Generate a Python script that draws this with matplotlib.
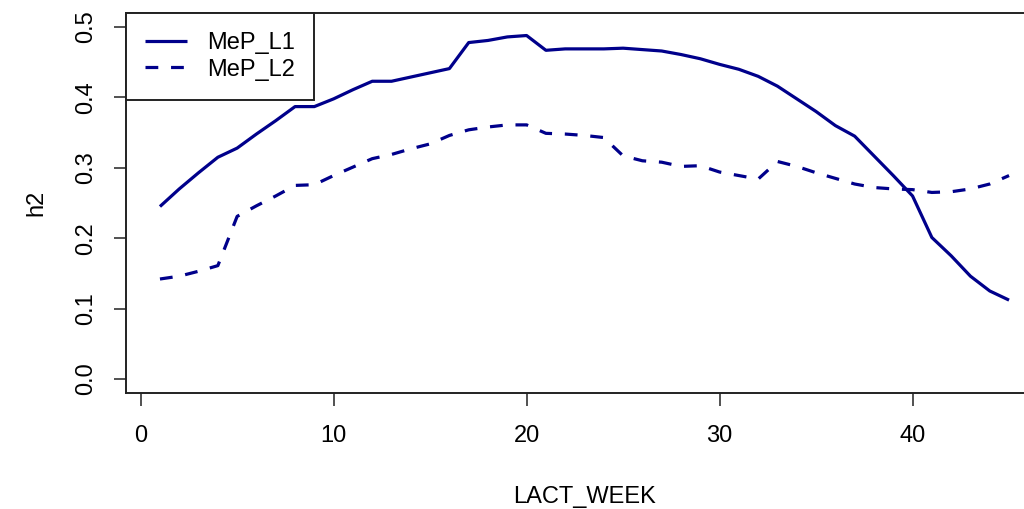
import matplotlib
matplotlib.use("Agg")
import matplotlib.pyplot as plt
import numpy as np

plt.rcParams['font.family'] = ['Liberation Sans', 'DejaVu Sans']

weeks = list(range(1, 46))
mep_l1 = [0.245, 0.270, 0.293, 0.315, 0.328, 0.348, 0.367, 0.387, 0.387, 0.398,
          0.411, 0.423, 0.423, 0.429, 0.435, 0.441, 0.478, 0.481, 0.486, 0.488,
          0.467, 0.469, 0.469, 0.469, 0.470, 0.468, 0.466, 0.461, 0.455, 0.447,
          0.440, 0.430, 0.416, 0.398, 0.380, 0.360, 0.345, 0.317, 0.289, 0.260,
          0.201, 0.175, 0.146, 0.125, 0.112]
mep_l2 = [0.142, 0.146, 0.153, 0.161, 0.231, 0.246, 0.260, 0.275, 0.276, 0.289,
          0.301, 0.313, 0.319, 0.327, 0.334, 0.346, 0.354, 0.358, 0.361, 0.361,
          0.349, 0.348, 0.346, 0.343, 0.317, 0.310, 0.308, 0.302, 0.303, 0.294,
          0.289, 0.284, 0.309, 0.302, 0.293, 0.285, 0.277, 0.272, 0.270, 0.269,
          0.265, 0.266, 0.270, 0.277, 0.289]
series_names = ["MeP_L1", "MeP_L2"]
x_ticks = [0, 10, 20, 30, 40]
y_ticks = [0.0, 0.1, 0.2, 0.3, 0.4, 0.5]

W, H = 1024, 509
fig = plt.figure(figsize=(W / 100, H / 100), dpi=100)
left, right, top, bottom = 126, 1043, 13, 393
ax = fig.add_axes([left / W, 1 - bottom / H, (right - left) / W, (bottom - top) / H])

color = '#00008B'
ax.plot(weeks, mep_l1, color=color, lw=2.3, solid_capstyle='butt', label=series_names[0])
ax.plot(weeks, mep_l2, color=color, lw=2.3, dashes=(4, 4), dash_capstyle='butt',
        label=series_names[1])

xr = max(weeks) - min(weeks)
ax.set_xlim(min(weeks) - 0.04 * xr, max(weeks) + 0.04 * xr)
ax.set_ylim(0 - 0.02, 0.5 + 0.02)

fs = 17
ax.set_xticks(x_ticks)
ax.set_xticklabels([str(t) for t in x_ticks], fontsize=fs)
ax.set_yticks(y_ticks)
ax.set_yticklabels([f"{t:.1f}" for t in y_ticks], fontsize=fs, rotation=90, va='center')
ax.tick_params(axis='both', direction='out', length=9, width=1.1, color='#222222')
ax.tick_params(axis='x', pad=14)
ax.tick_params(axis='y', pad=12)

for s in ax.spines.values():
    s.set_linewidth(1.4)
    s.set_color('#222222')

ax.set_xlabel("LACT_WEEK", fontsize=fs, labelpad=28)
ax.set_ylabel("h2", fontsize=fs, labelpad=20)

leg = ax.legend(loc='upper left', bbox_to_anchor=(0, 1), borderaxespad=0,
                fancybox=False, edgecolor='#222222', framealpha=1, fontsize=fs,
                handlelength=1.8, handletextpad=0.85, borderpad=0.8,
                labelspacing=0.2)
leg.get_frame().set_linewidth(1.4)

fig.savefig("out.png", dpi=100)
